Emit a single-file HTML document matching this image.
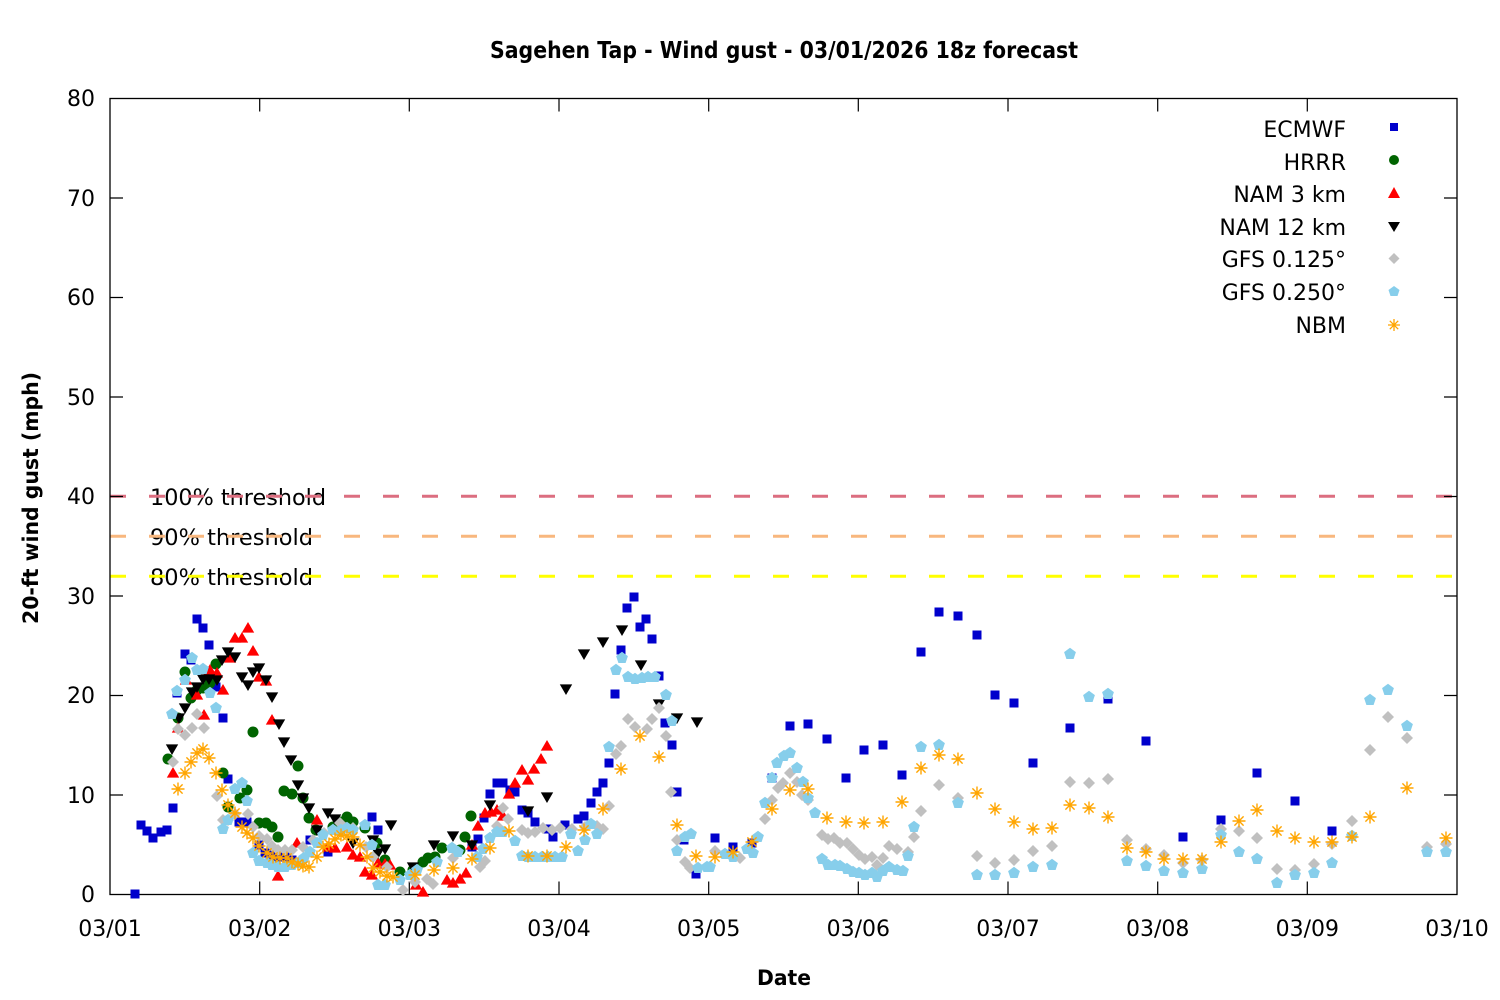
<!DOCTYPE html>
<html><head><meta charset="utf-8"><style>
html,body{margin:0;padding:0;background:#fff;}
svg{display:block;}
text{font-family:"DejaVu Sans","Liberation Sans",sans-serif;fill:#000;}
</style></head><body>
<svg width="1500" height="1000" viewBox="0 0 1500 1000" xmlns="http://www.w3.org/2000/svg">
<defs>
<marker id="mS" markerUnits="userSpaceOnUse" markerWidth="20" markerHeight="20" refX="10" refY="10" overflow="visible"><rect x="5.5" y="5.5" width="9" height="9" fill="#0000cc"/></marker>
<marker id="mC" markerUnits="userSpaceOnUse" markerWidth="20" markerHeight="20" refX="10" refY="10" overflow="visible"><circle cx="10" cy="10" r="5.5" fill="#006400"/></marker>
<marker id="mU" markerUnits="userSpaceOnUse" markerWidth="20" markerHeight="20" refX="10" refY="10" overflow="visible"><polygon points="10,4 16.2,14.6 3.8,14.6" fill="#ff0000"/></marker>
<marker id="mD" markerUnits="userSpaceOnUse" markerWidth="20" markerHeight="20" refX="10" refY="10" overflow="visible"><polygon points="3.8,5.4 16.2,5.4 10,16" fill="#000000"/></marker>
<marker id="mG" markerUnits="userSpaceOnUse" markerWidth="20" markerHeight="20" refX="10" refY="10" overflow="visible"><polygon points="10,4 16,10 10,16 4,10" fill="#c0c0c0"/></marker>
<marker id="mP" markerUnits="userSpaceOnUse" markerWidth="20" markerHeight="20" refX="10" refY="10" overflow="visible"><polygon points="10,3.8 15.9,8.1 13.6,15 6.4,15 4.1,8.1" fill="#87ceeb"/></marker>
<marker id="mA" markerUnits="userSpaceOnUse" markerWidth="20" markerHeight="20" refX="10" refY="10" overflow="visible"><path d="M10 3.5V16.5M3.5 10H16.5M5.4 5.4L14.6 14.6M14.6 5.4L5.4 14.6" stroke="#ffa500" stroke-width="1.4" fill="none"/></marker>
</defs>

<!-- title -->
<text x="784" y="58" font-size="23" font-weight="bold" text-anchor="middle" textLength="588" lengthAdjust="spacingAndGlyphs">Sagehen Tap - Wind gust - 03/01/2026 18z forecast</text>

<!-- threshold labels -->
<text x="150" y="505" font-size="22" textLength="176" lengthAdjust="spacingAndGlyphs">100% threshold</text>
<text x="150" y="545" font-size="22" textLength="163" lengthAdjust="spacingAndGlyphs">90% threshold</text>
<text x="150" y="585" font-size="22" textLength="163" lengthAdjust="spacingAndGlyphs">80% threshold</text>

<!-- threshold lines -->
<line x1="110" y1="496.3" x2="1457" y2="496.3" stroke="#dc6e80" stroke-width="3" stroke-dasharray="16 23"/>
<line x1="110" y1="536.3" x2="1457" y2="536.3" stroke="#f8b77e" stroke-width="3" stroke-dasharray="16 23"/>
<line x1="110" y1="576.3" x2="1457" y2="576.3" stroke="#ffff00" stroke-width="3" stroke-dasharray="16 23"/>

<!-- frame -->
<rect x="110" y="98.5" width="1347" height="796" fill="none" stroke="#000" stroke-width="1.3"/>
<g stroke="#000" stroke-width="1.2">
<path d="M259.7 894.5v-13M409.3 894.5v-13M559 894.5v-13M708.7 894.5v-13M858.3 894.5v-13M1008 894.5v-13M1157.7 894.5v-13M1307.3 894.5v-13"/>
<path d="M259.7 98.5v13M409.3 98.5v13M559 98.5v13M708.7 98.5v13M858.3 98.5v13M1008 98.5v13M1157.7 98.5v13M1307.3 98.5v13"/>
<path d="M110 795h13M110 695.5h13M110 596h13M110 496.5h13M110 397h13M110 297.5h13M110 198h13"/>
<path d="M1457 795h-13M1457 695.5h-13M1457 596h-13M1457 496.5h-13M1457 397h-13M1457 297.5h-13M1457 198h-13"/>
</g>

<!-- y tick labels -->
<g font-size="22" text-anchor="end">
<text x="95" y="106">80</text>
<text x="95" y="206">70</text>
<text x="95" y="305">60</text>
<text x="95" y="405">50</text>
<text x="95" y="504">40</text>
<text x="95" y="604">30</text>
<text x="95" y="703">20</text>
<text x="95" y="803">10</text>
<text x="95" y="902">0</text>
</g>
<!-- x tick labels -->
<g font-size="22" text-anchor="middle">
<text x="110" y="936">03/01</text>
<text x="259.7" y="936">03/02</text>
<text x="409.3" y="936">03/03</text>
<text x="559" y="936">03/04</text>
<text x="708.7" y="936">03/05</text>
<text x="858.3" y="936">03/06</text>
<text x="1008" y="936">03/07</text>
<text x="1157.7" y="936">03/08</text>
<text x="1307.3" y="936">03/09</text>
<text x="1457" y="936">03/10</text>
</g>
<text x="784" y="985" font-size="21" font-weight="bold" text-anchor="middle" textLength="54" lengthAdjust="spacingAndGlyphs">Date</text>
<text transform="translate(38,498) rotate(-90)" font-size="21" font-weight="bold" text-anchor="middle" textLength="252" lengthAdjust="spacingAndGlyphs">20-ft wind gust (mph)</text>

<!-- legend -->
<g font-size="22" text-anchor="end">
<text x="1346" y="137">ECMWF</text>
<text x="1346" y="170">HRRR</text>
<text x="1346" y="202">NAM 3 km</text>
<text x="1346" y="235">NAM 12 km</text>
<text x="1346" y="267">GFS 0.125°</text>
<text x="1346" y="300">GFS 0.250°</text>
<text x="1346" y="333">NBM</text>
</g>
<rect x="1390" y="123" width="8" height="8" fill="#0000cc"/>
<circle cx="1394" cy="160" r="5" fill="#006400"/>
<polygon points="1394,187 1400,198 1388,198" fill="#ff0000"/>
<polygon points="1388,222 1400,222 1394,232" fill="#000"/>
<polygon points="1394,253 1399.5,258.5 1394,264 1388.5,258.5" fill="#c0c0c0"/>
<polygon points="1394,286 1399.5,290 1397.5,296 1390.5,296 1388.5,290" fill="#87ceeb"/>
<path d="M1394 319V331M1388 325H1400M1389.8 320.8L1398.2 329.2M1398.2 320.8L1389.8 329.2" stroke="#ffa500" stroke-width="1.3"/>

<!-- ECMWF -->
<polyline fill="none" stroke="none" marker-start="url(#mS)" marker-mid="url(#mS)" marker-end="url(#mS)" points="135,894 141,825 147,831 153,838 161,832 167,830 173,808 177,693 185,654 191,660 197,619 203,628 209,645 216,687 223,718 228,779 239,822 247,822 259,845 265,853 272,855 278,857 285,857 292,860 298,862 310,840 328,852 372,817 378,830 472,847 478,839 484,818 490,794 497,783 503,783 510,790 515,792 522,810 528,813 535,822 547,829 553,837 565,825 578,819 584,816 591,803 597,792 603,783 609,763 615,694 621,650 627,608 634,597 640,627 646,619 652,639 659,676 665,723 672,745 677,792 684,840 696,874 715,838 733,847 752,843 772,778 790,726 808,724 827,739 846,778 864,750 883,745 902,775 921,652 939,612 958,616 977,635 995,695 1014,703 1033,763 1070,728 1108,699 1146,741 1183,837 1221,820 1257,773 1295,801 1332,831"/>
<!-- HRRR -->
<polyline fill="none" stroke="none" marker-start="url(#mC)" marker-mid="url(#mC)" marker-end="url(#mC)" points="168,759 178,718 185,672 191,698 197,690 203,688 210,683 216,664 223,773 228,807 240,798 247,790 253,732 259,823 266,823 272,827 278,837 284,791 292,794 298,766 303,798 309,818 316,830 333,827 340,822 347,817 353,822 365,828 377,843 385,860 400,872 413,870 423,862 428,858 435,857 442,848 460,850 465,837 471,816"/>
<!-- NAM 3 km -->
<polyline fill="none" stroke="none" marker-start="url(#mU)" marker-mid="url(#mU)" marker-end="url(#mU)" points="173,773 178,728 186,680 197,695 204,715 210,670 217,673 223,690 230,658 235,638 242,638 248,628 253,651 259,677 266,681 272,720 278,876 297,843 317,820 328,847 335,848 347,847 353,855 360,857 365,872 372,875 378,863 385,864 390,865 416,885 423,892 447,880 453,883 460,879 466,873 472,845 478,826 485,813 491,812 497,810 503,816 509,794 515,783 522,770 528,780 534,769 541,759 547,746"/>
<!-- NAM 12 km -->
<polyline fill="none" stroke="none" marker-start="url(#mD)" marker-mid="url(#mD)" marker-end="url(#mD)" points="172,749 179,718 185,708 192,692 197,687 203,679 209,679 217,680 222,660 228,652 235,657 242,677 248,685 253,672 259,668 266,680 272,697 279,724 284,742 291,760 298,785 303,798 309,808 317,830 328,813 335,819 353,843 373,840 378,853 385,849 391,825 413,867 434,845 453,836 472,845 490,805 528,811 547,797 566,689 584,654 603,642 622,630 641,665 659,704 677,718 697,722"/>
<!-- GFS 0.125 -->
<polyline fill="none" stroke="none" marker-start="url(#mG)" marker-mid="url(#mG)" marker-end="url(#mG)" points="173,762 178,729 185,735 192,728 197,714 204,728 217,796 223,820 228,820 235,814 248,814 253,827 259,836 267,839 272,846 278,850 285,850 292,850 303,847 313,840 324,833 340,823 353,828 366,847 373,857 387,867 403,890 415,882 427,879 433,884 453,858 480,867 485,861 497,826 503,808 508,819 522,830 528,833 535,832 543,828 552,830 560,828 572,829 585,827 597,826 603,829 609,806 616,754 621,746 628,719 635,727 647,729 652,719 659,708 666,736 671,792 677,840 685,862 690,868 715,851 740,858 765,819 772,800 778,788 783,783 790,773 797,782 802,795 808,800 822,835 828,839 834,838 840,843 847,843 853,849 859,855 865,859 872,857 877,865 883,858 889,846 897,849 908,852 914,837 921,811 939,785 958,798 977,856 995,863 1014,860 1033,851 1052,846 1070,782 1089,783 1108,779 1127,840 1146,849 1164,855 1183,863 1202,860 1221,829 1239,831 1257,838 1277,869 1295,870 1314,864 1332,844 1352,821 1370,750 1388,717 1407,738 1427,847 1446,844"/>
<!-- GFS 0.250 -->
<polyline fill="none" stroke="none" marker-start="url(#mP)" marker-mid="url(#mP)" marker-end="url(#mP)" points="172,714 177,691 185,680 192,658 197,670 203,669 210,693 216,708 223,829 228,820 235,789 242,783 247,801 253,853 259,861 267,863 272,865 278,867 285,867 292,865 298,863 304,858 310,852 317,843 323,835 333,830 341,830 347,828 353,830 365,825 372,845 378,885 385,885 400,880 410,875 417,870 437,862 452,848 458,852 477,857 483,849 490,838 497,832 503,832 515,841 522,856 528,857 535,857 542,857 548,857 555,857 562,857 571,834 578,851 585,840 591,824 597,834 609,747 616,670 622,658 628,677 635,679 642,678 648,677 655,677 666,695 672,721 677,851 685,837 691,834 698,868 707,867 710,867 725,854 733,857 747,849 753,853 758,837 765,803 772,778 777,763 784,756 790,753 797,768 803,782 808,798 815,813 822,859 828,865 835,865 840,866 847,869 853,872 859,873 865,875 872,873 877,877 883,871 889,867 897,870 903,871 908,856 914,827 921,747 939,745 958,803 977,875 995,875 1014,873 1033,867 1052,865 1070,654 1089,697 1108,694 1127,861 1146,866 1164,871 1183,873 1202,869 1221,835 1239,852 1257,859 1277,883 1295,875 1314,873 1332,863 1352,836 1370,700 1388,690 1407,726 1427,852 1446,852"/>
<!-- NBM -->
<polyline fill="none" stroke="none" marker-start="url(#mA)" marker-mid="url(#mA)" marker-end="url(#mA)" points="178,789 185,773 191,762 197,753 203,749 209,758 216,773 222,790 228,805 235,813 242,827 247,833 253,838 259,846 267,853 273,857 280,858 287,858 292,862 298,864 303,866 309,867 317,857 323,847 329,844 335,839 341,835 347,836 353,837 360,845 367,857 373,868 380,872 387,876 393,877 415,875 434,870 453,868 472,859 490,848 509,831 528,856 547,856 566,847 584,830 603,809 621,769 640,736 659,757 677,825 696,856 715,857 733,852 752,842 772,809 790,790 808,789 827,818 846,822 864,823 883,822 902,802 921,768 939,755 958,759 977,793 995,809 1014,822 1033,829 1052,828 1070,805 1089,808 1108,817 1127,848 1146,852 1164,859 1183,859 1202,859 1221,842 1239,821 1257,810 1277,831 1295,838 1314,842 1332,842 1352,837 1370,817 1407,788 1446,838"/>
</svg>
</body></html>
